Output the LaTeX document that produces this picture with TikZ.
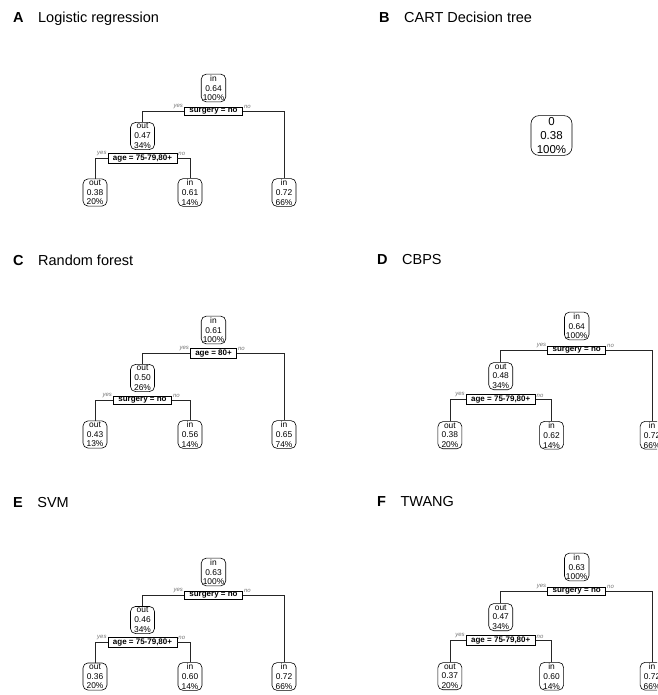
\documentclass[tikz,border=0pt]{standalone}
\usepackage{fontspec}
\setmainfont{Liberation Sans}

\tikzset{
  leafnode/.style={draw, rounded corners=5pt, align=center, line width=0.6pt,
    font=\fontsize{8.4}{9.8}\selectfont, inner xsep=1.5pt, inner ysep=1pt, minimum width=24pt},
  splitbox/.style={draw, line width=0.8pt, font=\fontsize{8}{9}\selectfont\bfseries,
    inner xsep=5pt, inner ysep=1.2pt},
  branch/.style={draw=black!85, line width=0.7pt},
  yesno/.style={font=\fontsize{6}{6.5}\selectfont\itshape, text=black!55, inner sep=0.8pt},
  paneltitle/.style={anchor=base west, inner sep=0pt, font=\fontsize{14.5}{16}\selectfont}
}

% one fitted tree: prefix, root value, first split, left kid, second split, three leaves
\newcommand\dectree[8]{%
  \node[leafnode] (#1root) at (0,0) {in\\#2\\100\%};
  \node[splitbox] (#1sa) at (0,23.5) {#3};
  \node[leafnode] (#1kid) at (-71,48) {out\\#4};
  \node[splitbox] (#1sb) at (-71,70.5) {#5};
  \node[leafnode] (#1la) at (-118.5,104.5) {out\\#6};
  \node[leafnode] (#1lb) at (-23.5,104.5) {in\\#7};
  \node[leafnode] (#1lc) at (70.5,104.5) {in\\#8};
  \draw[branch] (#1sa.west) -| (#1kid.north) (#1sa.east) -| (#1lc.north);
  \draw[branch] (#1sb.west) -| (#1la.north) (#1sb.east) -| (#1lb.north);
  \node[yesno, anchor=south east] (#1ya) at ([yshift=1.5pt]#1sa.west) {yes};
  \node[yesno, anchor=south west] (#1na) at ([yshift=1.5pt]#1sa.east) {no};
  \node[yesno, anchor=south east] (#1yb) at ([yshift=1.5pt]#1sb.west) {yes};
  \node[yesno, anchor=south west] (#1nb) at ([yshift=1.5pt]#1sb.east) {no};
}

\begin{document}
\begin{tikzpicture}[x=1pt, y=-1pt]
  \clip (0,0) rectangle (657,695);

  % Panel titles
  \node[paneltitle] (titleA) at (13,23) {\textbf{A}\quad Logistic regression};
  \node[paneltitle] (titleB) at (379,23) {\textbf{B}\quad CART Decision tree};
  \node[paneltitle] (titleC) at (13,265) {\textbf{C}\quad Random forest};
  \node[paneltitle] (titleD) at (377,264) {\textbf{D}\quad CBPS};
  \node[paneltitle] (titleE) at (13,507) {\textbf{E}\quad SVM};
  \node[paneltitle] (titleF) at (377,506) {\textbf{F}\quad TWANG};

  % Left column trees
  \begin{scope}[shift={(213.5,88)}]
    \dectree{lr}{0.64}{surgery = no}{0.47\\34\%}{age = 75-79,80+}{0.38\\20\%}{0.61\\14\%}{0.72\\66\%}
  \end{scope}
  \begin{scope}[shift={(213.5,330)}]
    \dectree{rf}{0.61}{age = 80+}{0.50\\26\%}{surgery = no}{0.43\\13\%}{0.56\\14\%}{0.65\\74\%}
  \end{scope}
  \begin{scope}[shift={(213.5,572)}]
    \dectree{svm}{0.63}{surgery = no}{0.46\\34\%}{age = 75-79,80+}{0.36\\20\%}{0.60\\14\%}{0.72\\66\%}
  \end{scope}

  % CART gives a single node
  \node[leafnode, rounded corners=8pt, font=\fontsize{11.5}{14.3}\selectfont,
    minimum width=41pt, inner sep=1.5pt] (cart) at (551.5,135.5) {0\\0.38\\100\%};

  % Right column trees, a little wider
  \begin{scope}[shift={(576.7,326)}, xscale=1.07, yscale=1.045]
    \dectree{cb}{0.64}{surgery = no}{0.48\\34\%}{age = 75-79,80+}{0.38\\20\%}{0.62\\14\%}{0.72\\66\%}
  \end{scope}
  \begin{scope}[shift={(576.7,567)}, xscale=1.07, yscale=1.045]
    \dectree{tw}{0.63}{surgery = no}{0.47\\34\%}{age = 75-79,80+}{0.37\\20\%}{0.60\\14\%}{0.72\\66\%}
  \end{scope}
\end{tikzpicture}
\end{document}
